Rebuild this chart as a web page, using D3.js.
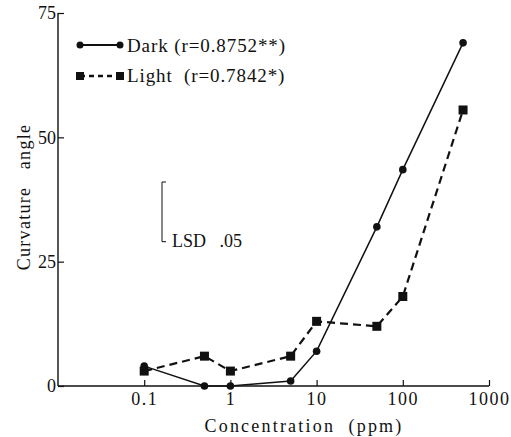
<!DOCTYPE html>
<html><head><meta charset="utf-8">
<script src="https://cdn.jsdelivr.net/npm/d3@7"></script>
<style>body{margin:0;background:#fff}svg{display:block}text{font-family:"Liberation Serif","DejaVu Serif",serif;fill:#111}</style>
</head><body>
<script>
const concentrations = [0.1, 0.5, 1, 5, 10, 50, 100, 500];
const darkValues = [4, 0, 0, 1, 7, 32, 43.5, 69];
const lightValues = [3, 6, 3, 6, 13, 12, 18, 55.5];
const xTickValues = [0.1, 1, 10, 100, 1000];
const xTickLabels = ["0.1", "1", "10", "100", "1000"];
const yTickValues = [0, 25, 50, 75];
const seriesNames = ["Dark", "Light"];
const seriesStats = ["(r=0.8752**)", "(r=0.7842*)"];
const lsdValue = 12;

const W = 511, H = 437;
const svg = d3.select("body").append("svg").attr("width", W).attr("height", H);
const x = d3.scaleLog().domain([0.01, 1000]).range([58, 489]);
const y = d3.scaleLinear().domain([0, 75]).range([386, 13]);

// axes
const xAxis = d3.axisBottom(x).tickValues(xTickValues).tickSize(-6).tickPadding(6)
  .tickFormat((d, i) => xTickLabels[i]);
const gx = svg.append("g").attr("transform", `translate(0,${y(0)})`).call(xAxis);
gx.attr("font-family", null);
gx.select(".domain").attr("d", `M${x(0.01)},0H${x(1000)}`).attr("stroke", "#111").attr("stroke-width", 1.4);
gx.selectAll(".tick line").attr("stroke", "#111").attr("stroke-width", 1.2);
gx.selectAll(".tick text").attr("font-size", 18).attr("letter-spacing", 1.5);

const yAxis = d3.axisLeft(y).tickValues(yTickValues).tickSize(-6).tickPadding(2);
const gy = svg.append("g").attr("transform", `translate(${x(0.01)},0)`).call(yAxis);
gy.attr("font-family", null);
gy.select(".domain").attr("d", `M0,${y(75)}V${y(0)}`).attr("stroke", "#111").attr("stroke-width", 1.4);
gy.selectAll(".tick line").attr("stroke", "#111").attr("stroke-width", 1.2);
gy.selectAll(".tick text").attr("font-size", 18);

// axis titles
svg.append("text").attr("x", 304).attr("y", 432).attr("text-anchor", "middle")
  .attr("font-size", 18).attr("letter-spacing", 2.2).style("white-space", "pre").text("Concentration  (ppm)");
svg.append("text").attr("transform", "translate(30,197) rotate(-90)").attr("text-anchor", "middle")
  .attr("font-size", 18).attr("letter-spacing", 1.3).style("white-space", "pre").text("Curvature   angle");

// lines
const line = d3.line().x(d => x(d[0])).y(d => y(d[1]));
const darkData = concentrations.map((c, i) => [c, darkValues[i]]);
const lightData = concentrations.map((c, i) => [c, lightValues[i]]);

svg.append("path").datum(lightData).attr("d", line).attr("fill", "none")
  .attr("stroke", "#111").attr("stroke-width", 2.2).attr("stroke-dasharray", "8,5");
svg.append("path").datum(darkData).attr("d", line).attr("fill", "none")
  .attr("stroke", "#111").attr("stroke-width", 1.5);

svg.selectAll(".sq").data(lightData).enter().append("rect")
  .attr("x", d => x(d[0]) - 4.5).attr("y", d => y(d[1]) - 4.5)
  .attr("width", 9).attr("height", 9).attr("fill", "#111");
svg.selectAll(".ci").data(darkData).enter().append("circle")
  .attr("cx", d => x(d[0])).attr("cy", d => y(d[1])).attr("r", 3.8).attr("fill", "#111");

// legend
const lg = svg.append("g");
lg.append("line").attr("x1", 80).attr("x2", 120).attr("y1", 45).attr("y2", 45).attr("stroke", "#111").attr("stroke-width", 2.2);
lg.append("circle").attr("cx", 80).attr("cy", 45).attr("r", 3.5).attr("fill", "#111");
lg.append("circle").attr("cx", 120).attr("cy", 45).attr("r", 3.5).attr("fill", "#111");
const t1 = lg.append("text").attr("x", 127).attr("y", 52).attr("font-size", 19).attr("letter-spacing", 0.9).style("white-space", "pre");
t1.append("tspan").text(seriesNames[0] + " ");
t1.append("tspan").text(seriesStats[0]);
lg.append("line").attr("x1", 80).attr("x2", 120).attr("y1", 76).attr("y2", 76).attr("stroke", "#111").attr("stroke-width", 2.4).attr("stroke-dasharray", "5,4");
lg.append("rect").attr("x", 76).attr("y", 72).attr("width", 8).attr("height", 8).attr("fill", "#111");
lg.append("rect").attr("x", 116).attr("y", 72).attr("width", 8).attr("height", 8).attr("fill", "#111");
const t2 = lg.append("text").attr("x", 127).attr("y", 82).attr("font-size", 19).attr("letter-spacing", 0.9).style("white-space", "pre");
t2.append("tspan").text(seriesNames[1] + "  ");
t2.append("tspan").text(seriesStats[1]);

// LSD bar
const lsdTop = 182, lsdBottom = lsdTop + (y(0) - y(lsdValue));
svg.append("path").attr("d", `M166,${lsdTop}H162V${lsdBottom}H166`).attr("fill", "none").attr("stroke", "#111").attr("stroke-width", 1);
svg.append("text").attr("x", 172).attr("y", 247).attr("font-size", 18).style("white-space", "pre").text("LSD   .05");
</script>
</body></html>
